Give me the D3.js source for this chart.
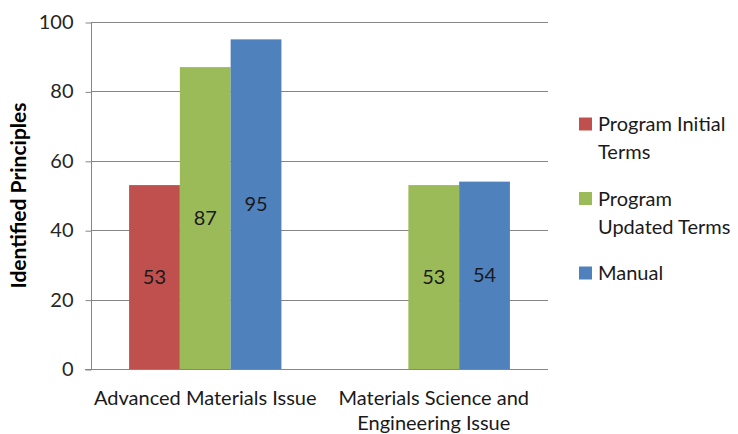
<!DOCTYPE html>
<html>
<head>
<meta charset="utf-8">
<script src="https://cdn.jsdelivr.net/npm/d3@7"></script>
<style>
  html, body { margin: 0; padding: 0; background: #fff; }
  svg { display: block; font-family: Lato, "Open Sans", sans-serif; }
</style>
</head>
<body>
<svg id="chart" width="738" height="434"></svg>
<script>
// Categories (x axis), wrapped onto lines
const categories = ["Advanced Materials Issue", "Materials Science and Engineering Issue"];
const categoryLines = [["Advanced Materials Issue"], ["Materials Science and", "Engineering Issue"]];

// Series
const seriesNames = ["Program Initial Terms", "Program Updated Terms", "Manual"];
const seriesLegendLines = [["Program Initial", "Terms"], ["Program", "Updated Terms"], ["Manual"]];
const seriesColors = ["#C0504D", "#9BBB59", "#4F81BD"];

const programInitial = [53, null];
const programUpdated = [87, 53];
const manual = [95, 54];

const yTicks = [0, 20, 40, 60, 80, 100];
const yTitle = "Identified Principles";

const values = [programInitial, programUpdated, manual];

const svg = d3.select("#chart");
const plot = { left: 91, right: 548, top: 22, bottom: 369 };
const fontSize = 20;

const y = d3.scaleLinear().domain([0, 100]).range([plot.bottom, plot.top]);
const x0 = d3.scaleBand().domain(categories).range([plot.left, plot.right]).padding(0);
const x1 = d3.scaleBand().domain(seriesNames).range([0, x0.bandwidth()])
  .paddingInner(0).paddingOuter(0.75);

const gridColor = "#868686";

// Horizontal gridlines
svg.append("g").selectAll("line").data(yTicks.filter(t => t > 0)).join("line")
  .attr("x1", plot.left).attr("x2", plot.right)
  .attr("y1", d => Math.round(y(d)) + 0.5).attr("y2", d => Math.round(y(d)) + 0.5)
  .attr("stroke", gridColor).attr("stroke-width", 1);

// Bars
const groups = svg.append("g").selectAll("g").data(categories).join("g")
  .attr("transform", c => `translate(${x0(c)},0)`);

groups.each(function (c, ci) {
  const g = d3.select(this);
  const rows = seriesNames.map((s, si) => ({ s, si, v: values[si][ci] }))
    .filter(d => d.v != null);
  g.selectAll("rect").data(rows).join("rect")
    .attr("x", d => x1(d.s))
    .attr("width", x1.bandwidth())
    .attr("y", d => y(d.v))
    .attr("height", d => y(0) - y(d.v))
    .attr("fill", d => seriesColors[d.si]);
  g.selectAll("text").data(rows).join("text")
    .attr("x", d => x1(d.s) + x1.bandwidth() / 2)
    .attr("y", d => (y(d.v) + y(0)) / 2)
    .attr("dy", "0.35em")
    .attr("text-anchor", "middle")
    .attr("font-size", fontSize)
    .attr("fill", "#1a1a1a")
    .text(d => d.v);
});

// Y axis
const yAxis = d3.axisLeft(y).tickValues(yTicks).tickSize(6).tickPadding(12);
const ya = svg.append("g").attr("transform", `translate(${plot.left + 0.5},0)`).call(yAxis);
ya.select(".domain").attr("stroke", gridColor).attr("d", `M0,${plot.top}V${plot.bottom}`);
ya.selectAll(".tick line").attr("stroke", gridColor)
  .attr("transform", "translate(0,0.5)");
ya.selectAll(".tick text").attr("font-size", fontSize).attr("fill", "#262626")
  .attr("font-family", "Lato, sans-serif");

// X axis line
svg.append("line")
  .attr("x1", plot.left - 6).attr("x2", plot.right)
  .attr("y1", plot.bottom + 0.5).attr("y2", plot.bottom + 0.5)
  .attr("stroke", gridColor);

// Category labels
svg.append("g").selectAll("text").data(categories).join("text")
  .attr("text-anchor", "middle")
  .attr("font-size", fontSize).attr("fill", "#1a1a1a")
  .attr("x", c => x0(c) + x0.bandwidth() / 2)
  .attr("y", 405)
  .each(function (c, i) {
    d3.select(this).selectAll("tspan").data(categoryLines[i]).join("tspan")
      .attr("x", x0(c) + x0.bandwidth() / 2)
      .attr("dy", (d, k) => k === 0 ? 0 : 25)
      .text(d => d);
  });

// Y axis title
svg.append("text")
  .attr("transform", `translate(26,${(plot.top + plot.bottom) / 2}) rotate(-90)`)
  .attr("text-anchor", "middle")
  .attr("font-size", 21).attr("font-weight", "bold").attr("fill", "#000")
  .text(yTitle);

// Legend
const legend = svg.append("g").selectAll("g").data(seriesNames).join("g")
  .attr("transform", (d, i) => `translate(579,${124 + i * 74.5})`);
legend.append("rect")
  .attr("x", 0).attr("y", -6.5).attr("width", 13).attr("height", 13)
  .attr("fill", (d, i) => seriesColors[i]);
legend.append("text")
  .attr("font-size", fontSize).attr("fill", "#1a1a1a")
  .attr("x", 19)
  .each(function (d, i) {
    d3.select(this).selectAll("tspan").data(seriesLegendLines[i]).join("tspan")
      .attr("x", 19)
      .attr("dy", (t, k) => k === 0 ? "0.35em" : 28)
      .text(t => t);
  });
</script>
</body>
</html>
